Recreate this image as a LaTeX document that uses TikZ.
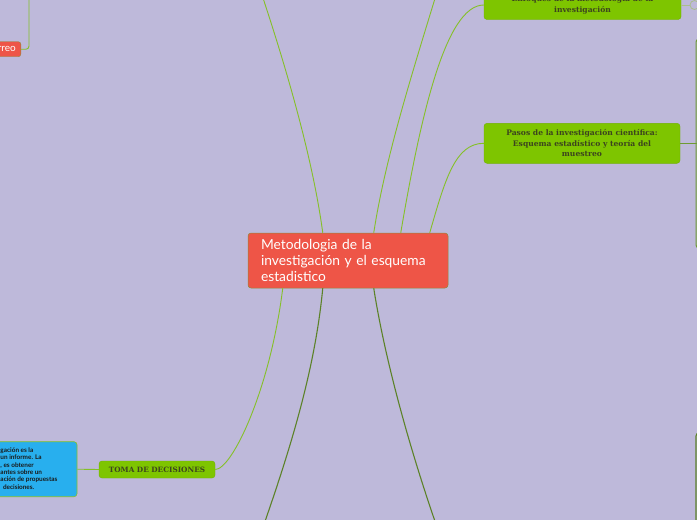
\documentclass[tikz,border=0pt]{standalone}
\usepackage{fontspec}
\setmainfont{DejaVu Serif}
\newfontfamily\sansf{Lato}
\usetikzlibrary{calc}
\definecolor{bgc}{RGB}{190,185,218}
\definecolor{mmred}{RGB}{238,85,71}
\definecolor{mmgreen}{RGB}{126,197,0}
\definecolor{mmblue}{RGB}{40,175,238}
\definecolor{linelight}{RGB}{133,192,40}
\definecolor{linedark}{RGB}{92,130,40}
\definecolor{lineolive}{RGB}{110,155,50}
\definecolor{gtext}{RGB}{60,68,30}
\definecolor{colc}{RGB}{170,190,140}
\begin{document}
\begin{tikzpicture}[x=1pt,y=-1pt,
  gnode/.style={fill=mmgreen, draw=mmgreen!90!black, line width=0.4pt, rounded corners=3pt,
    inner sep=0pt, text=gtext, align=center, font=\bfseries\fontsize{7.6}{10.7}\selectfont},
  cnode/.style={fill=mmred, draw=olive!60!gray, line width=0.5pt, rounded corners=3pt,
    text=white, align=left, inner sep=0pt, font=\sansf\fontsize{13.8}{16.2}\selectfont},
  rnode/.style={fill=mmred, draw=olive!60!gray, line width=0.4pt, rounded corners=2.5pt,
    text=white, inner sep=0pt, font=\sansf\fontsize{10}{12}\selectfont},
  bnode/.style={fill=mmblue, draw=linelight, line width=0.6pt, rounded corners=3pt},
  btext/.style={text=black!90, align=left, inner sep=0pt, font=\sansf\bfseries\fontsize{6.4}{7.3}\selectfont},
  lconn/.style={draw=linelight, line width=0.9pt},
  dconn/.style={draw=linedark, line width=1.1pt},
  oconn/.style={draw=lineolive, line width=1pt, rounded corners=3pt}
]
\useasboundingbox (0,0) rectangle (697,520);
\fill[bgc] (0,0) rectangle (697,520);
\clip (0,0) rectangle (697,520);

% nodes
\node[cnode, minimum width=200pt, minimum height=55pt, text width=174pt] (c) at (348,260.5)
  {Metodologia de la\\investigación y el esquema\\estadistico};
\node[gnode, minimum width=197pt, minimum height=29pt] (enf) at (582.5,5)
  {Enfoques de la metodología de la\\investigación};
\node[gnode, minimum width=196pt, minimum height=40pt] (pasos) at (582,143.3)
  {Pasos de la investigación científica:\\Esquema estadístico y teoría del\\muestreo};
\node[gnode, minimum width=116pt, minimum height=17pt, font=\bfseries\fontsize{7.3}{9}\selectfont] (toma) at (157,469.5)
  {TOMA DE DECISIONES};
\node[bnode, minimum width=160pt, minimum height=55pt] (blue) at (-3,469.2) {};
\node[btext, anchor=west] (bt) at (0.3,468.5)
  {gación es la\\un informe. La\\, es obtener\\antes sobre un\\ación de propuestas\\\hspace{2.5pt}decisiones.};
\node[rnode, minimum height=15pt, text width=45pt, align=right, inner xsep=5pt, anchor=east] (r) at (21,49.2) {rreo};
\node[circle, draw=colc, fill=bgc, line width=0.8pt, minimum size=9pt, inner sep=0pt] (col) at (694.5,5) {};

% free ends
\coordinate (ta) at (261,-8);
\coordinate (tb) at (437,-8);
\coordinate (bf) at (262,530);
\coordinate (gend) at (438,530);

% connectors
\draw[lconn] ($(c.north west)+(75,0)$) .. controls (313,160) and (287,70) .. (ta);
\draw[lconn] ($(c.north west)+(126,0)$) .. controls (385,160) and (410,80) .. (tb);
\draw[lconn] ($(c.north west)+(153,0)$) .. controls (420,120) and (445,5) .. (enf.west);
\draw[lconn] ($(c.north west)+(182,0)$) .. controls (445,180) and (455,143.3) .. (pasos.west);
\draw[lconn] ($(c.south west)+(35,0)$) .. controls (270,390) and (232,469.5) .. (toma.east);
\draw[dconn] ($(c.south west)+(75,0)$) .. controls (315,370) and (290,450) .. (bf);
\draw[dconn] ($(c.south west)+(126,0)$) .. controls (385,360) and (410,450) .. (gend);
\draw[lconn] (blue.east) -- (toma.west);
\draw[lconn, rounded corners=3pt] (r.east) -- (29,49.2) -- (29,-5);
\draw[draw=colc, line width=0.8pt] (enf.east) -- (col.west);
\draw[oconn] (pasos.east) -- (697,143.3);
\draw[oconn] (700,39) -- (696,39) -- (696,248) -- (700,248);
\draw[dconn, rounded corners=3pt] (700,433) -- (696,433) -- (696,525);
\end{tikzpicture}
\end{document}
